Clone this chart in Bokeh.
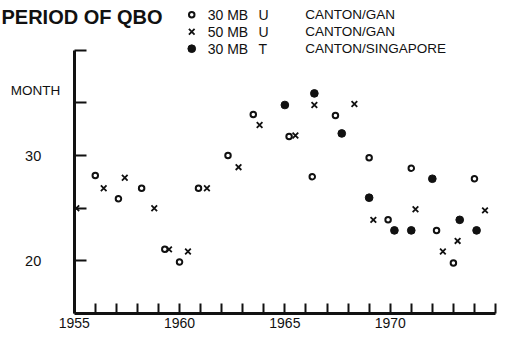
from bokeh.plotting import figure
from bokeh.models import Label, FixedTicker, Range1d
from bokeh.core.properties import value
from bokeh.embed import file_html
from bokeh.resources import INLINE

# ---------------- data ----------------
u30_year = [1956.0, 1957.1, 1958.2, 1959.3, 1960.0, 1960.9, 1962.3, 1963.5, 1965.2,
            1966.3, 1967.4, 1969.0, 1969.9, 1971.0, 1972.2, 1973.0, 1974.0]
u30_month = [28.1, 25.9, 26.9, 21.1, 19.9, 26.9, 30.0, 33.9, 31.8,
             28.0, 33.8, 29.8, 23.9, 28.8, 22.9, 19.8, 27.8]

u50_year = [1955.1, 1956.4, 1957.4, 1958.8, 1959.5, 1960.4, 1961.3, 1962.8, 1963.8,
            1965.5, 1966.4, 1968.3, 1969.2, 1971.2, 1972.5, 1973.2, 1974.5]
u50_month = [25.0, 26.9, 27.9, 25.0, 21.1, 20.9, 26.9, 28.9, 32.9,
             31.9, 34.8, 34.9, 23.9, 24.9, 20.9, 21.9, 24.8]

t30_year = [1965.0, 1966.4, 1967.7, 1969.0, 1970.2, 1971.0, 1972.0, 1973.3, 1974.1]
t30_month = [34.8, 35.9, 32.1, 26.0, 22.9, 22.9, 27.8, 23.9, 22.9]

x_ticks = list(range(1955, 1976))
x_tick_labels = {1955: "1955", 1960: "1960", 1965: "1965", 1970: "1970"}
y_ticks = [20, 25, 30, 35, 40]
y_tick_labels = {20: "20", 30: "30"}

legend_levels = ["30 MB", "50 MB", "30 MB"]
legend_vars = ["U", "U", "T"]
legend_stations = ["CANTON/GAN", "CANTON/GAN", "CANTON/SINGAPORE"]
title_text = "PERIOD OF QBO"
y_unit_text = "MONTH"

# ---------------- layout ----------------
# the frame fills the whole canvas; a reference pixel (rx, ry) maps to data by X(), Y()
W, H = 504, 335
REF_W, REF_H = 506, 337
AX_X, AX_Y = 74, 315          # reference pixel of the axes corner (1955, 15)
PX_YEAR, PX_MONTH = 21.15, 10.6
X0, Y0 = 1955, 15


def X(rx):
    return X0 + (rx - AX_X) / PX_YEAR


def Y(ry):
    return Y0 + (AX_Y - ry) / PX_MONTH


FONT = "Liberation Sans"
INK = "#111111"

p = figure(width=W, height=H,
           x_range=Range1d(X(0), X(REF_W)), y_range=Range1d(Y(REF_H), Y(0)),
           output_backend="svg", toolbar_location=None,
           min_border_left=0, min_border_right=0, min_border_top=0,
           min_border_bottom=0)
p.outline_line_color = None
p.xgrid.visible = False
p.ygrid.visible = False
p.background_fill_color = "white"
p.border_fill_color = "white"

# axes (pinned at 1955 / 15 so they take no border space)
xa = p.xaxis[0]
xa.fixed_location = 15
xa.ticker = FixedTicker(ticks=x_ticks)
xa.bounds = (1955, 1975)
xa.major_label_overrides = {t: x_tick_labels.get(t, "") for t in x_ticks}
xa.axis_line_width = 3
xa.axis_line_color = INK
xa.major_tick_line_width = 2
xa.major_tick_line_color = INK
xa.major_tick_in = 10
xa.major_tick_out = 0
xa.minor_tick_line_color = None
xa.major_label_standoff = 4
xa.major_label_text_font = FONT
xa.major_label_text_font_size = "14px"
xa.major_label_text_color = INK

ya = p.yaxis[0]
ya.fixed_location = 1955
ya.ticker = FixedTicker(ticks=y_ticks)
ya.bounds = (15, 40)
ya.major_label_overrides = {t: y_tick_labels.get(t, "") for t in y_ticks}
ya.axis_line_width = 3
ya.axis_line_color = INK
ya.major_tick_line_width = 2
ya.major_tick_line_color = INK
ya.major_tick_in = 12
ya.major_tick_out = 0
ya.minor_tick_line_color = None
ya.major_label_standoff = 33
ya.major_label_text_font = FONT
ya.major_label_text_font_size = "14.5px"
ya.major_label_text_color = INK

# data markers
OPEN = dict(marker="circle", size=5.5, fill_color=None, line_color=INK, line_width=2)
CROSS = dict(marker="x", size=8, line_color=INK, line_width=1.8)
FILLED = dict(marker="circle", size=7.7, fill_color=INK, line_color=INK, line_width=1)

p.scatter(u30_year, u30_month, **OPEN)
p.scatter(u50_year, u50_month, **CROSS)
p.scatter(t30_year, t30_month, **FILLED)

# legend (top)
rows = [14.3, 31.5, 48.5]
key_x = 192
p.scatter([X(key_x)], [Y(rows[0])], **OPEN)
p.scatter([X(key_x)], [Y(rows[1])], **CROSS)
p.scatter([X(key_x)], [Y(rows[2])], **FILLED)

ly = [Y(r) for r in rows]
p.text(x=[X(208)] * 3, y=ly, text=legend_levels, text_font=value(FONT),
       text_font_size="14px", text_baseline="middle", text_align="left", text_color=INK)
p.text(x=[X(259)] * 3, y=ly, text=legend_vars, text_font=value(FONT),
       text_font_size="14px", text_baseline="middle", text_align="left", text_color=INK)
p.text(x=[X(306)] * 3, y=ly, text=legend_stations, text_font=value(FONT),
       text_font_size="13.5px", text_baseline="middle", text_align="left", text_color=INK)

# MONTH label
p.add_layout(Label(x=X(60), y=Y(90.5), text=y_unit_text, text_font=FONT,
                   text_font_size="13.5px", text_align="right", text_baseline="middle",
                   text_color=INK))

# title
p.add_layout(Label(x=X(1), y=Y(16.5), text=title_text, text_font=FONT,
                   text_font_size="20px", text_font_style="bold", text_align="left",
                   text_baseline="alphabetic", text_color=INK))

open("out.html", "w").write(file_html(p, INLINE))
